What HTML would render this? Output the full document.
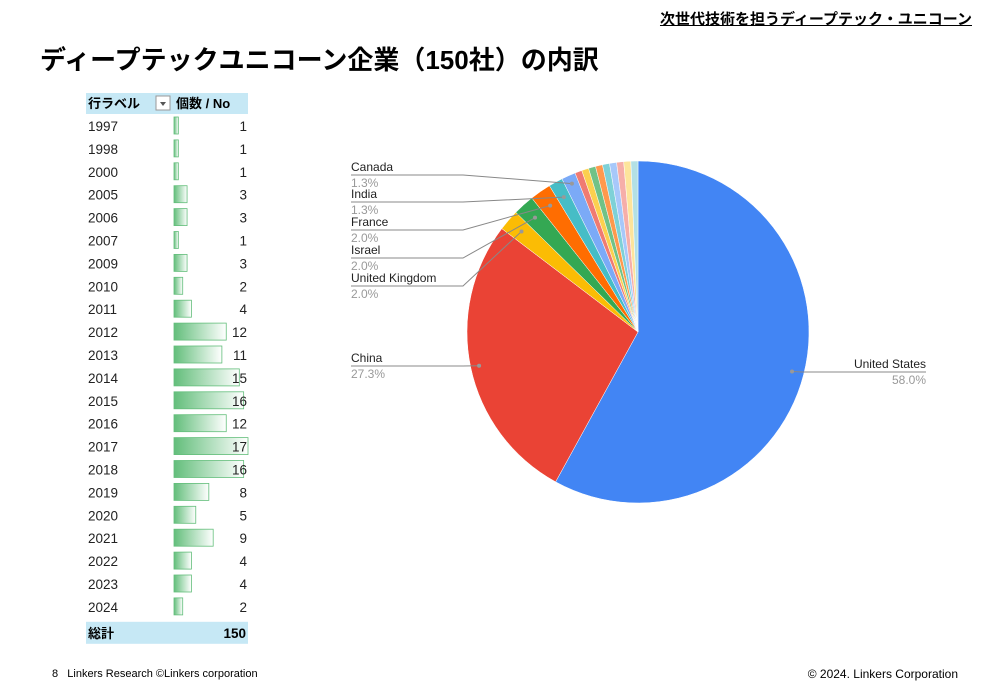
<!DOCTYPE html>
<html><head><meta charset="utf-8"><style>
body{margin:0;width:1000px;height:692px;background:#fff;font-family:"Liberation Sans","Noto Sans CJK JP",sans-serif;position:relative;overflow:hidden}
.abs{position:absolute}
</style></head><body>
<div class="abs" style="right:28px;top:8px;font-size:15px;font-weight:bold;text-decoration:underline">次世代技術を担うディープテック・ユニコーン</div>
<div class="abs" style="left:40px;top:40px;font-size:26px;font-weight:bold">ディープテックユニコーン企業（150社）の内訳</div>
<svg class="abs" style="left:0;top:0" width="1000" height="692" id="svg"></svg>
<div class="abs" style="left:52px;top:668px;font-size:11px">8 &nbsp;&nbsp;Linkers Research ©Linkers corporation</div>
<div class="abs" style="right:42px;top:667px;font-size:12px">© 2024. Linkers Corporation</div>
<script>
const years=["1997","1998","2000","2005","2006","2007","2009","2010","2011","2012","2013","2014","2015","2016","2017","2018","2019","2020","2021","2022","2023","2024"];
const counts=[1,1,1,3,3,1,3,2,4,12,11,15,16,12,17,16,8,5,9,4,4,2];
const total="150";
const countries=["United States","China","United Kingdom","Israel","France","India","Canada","o1","o2","o3","o4","o5","o6","o7","o8","o9"];
const shares=[87,41,3,3,3,2,2,1,1,1,1,1,1,1,1,1];
const colors=["#4285F4","#EA4335","#FBBC04","#34A853","#FF6D01","#46BDC6","#7BAAF7","#F07B72","#FCD04F","#71C287","#FF994D","#7ED1D7","#A7C8FA","#F6AEA9","#FDE49B","#B3E0E5"];
const NS="http://www.w3.org/2000/svg";const svg=document.getElementById('svg');
function mk(t,a,p){const e=document.createElementNS(NS,t);for(const k in a)e.setAttribute(k,a[k]);(p||svg).appendChild(e);return e;}
let h=mk('rect',{x:86,y:93,width:162,height:21,fill:'#c6e8f5'});


let t=mk('text',{x:88,y:108,'font-size':13,'font-weight':'bold'});t.textContent='行ラベル';


let fb=mk('rect',{x:156,y:96,width:14,height:14,fill:'#fff',stroke:'#999'});


mk('path',{d:'M160 102 L166 102 L163 106 Z',fill:'#555'});
t=mk('text',{x:176,y:108,'font-size':13,'font-weight':'bold'});t.textContent='個数 / No';


const defs=mk('defs',{});const g=mk('linearGradient',{id:'gb',x1:0,x2:1,y1:0,y2:0},defs);
mk('stop',{offset:0,'stop-color':'#63be7b'},g);mk('stop',{offset:1,'stop-color':'#fff'},g);
const x0=174,maxW=74,maxV=17,rowH=22.9,y0=126;
years.forEach((y,i)=>{const cy=y0+i*rowH;
 const w=counts[i]/maxV*maxW;
 const b=mk('rect',{x:x0,y:cy-9,width:w,height:17,fill:'url(#gb)',stroke:'#63be7b','stroke-width':0.8});
 
 
 let a=mk('text',{x:88,y:cy+5,'font-size':13.5,fill:'#222'});a.textContent=y;
 
 
 let c=mk('text',{x:247,y:cy+5,'font-size':13.5,'text-anchor':'end',fill:'#222'});c.textContent=counts[i];
 
 
});
const ty=y0+years.length*rowH-8;
let tr=mk('rect',{x:86,y:ty,width:162,height:22,fill:'#c6e8f5'});


t=mk('text',{x:88,y:ty+16,'font-size':13,'font-weight':'bold'});t.textContent='総計';


t=mk('text',{x:246,y:ty+16,'font-size':13.5,'font-weight':'bold','text-anchor':'end'});t.textContent=total;


const cx=638,cyP=332,R=171;const sum=shares.reduce((a,b)=>a+b,0);
let ang=0;const mids=[];
shares.forEach((s,i)=>{const a0=ang,a1=ang+s/sum*2*Math.PI;ang=a1;mids.push((a0+a1)/2);
 const p=(a)=>[cx+R*Math.sin(a),cyP-R*Math.cos(a)];const [xa,ya]=p(a0),[xb,yb]=p(a1);
 const sl=mk('path',{d:`M${cx} ${cyP} L${xa} ${ya} A${R} ${R} 0 ${a1-a0>Math.PI?1:0} 1 ${xb} ${yb} Z`,fill:colors[i],stroke:'#fff','stroke-width':0.5});
 
 
});
function pct(i){return (shares[i]/sum*100).toFixed(1)+'%';}
function label(i,lx,ly,lineEnd,rf){
 const a=mids[i];const dx=cx+R*rf*Math.sin(a),dy=cyP-R*rf*Math.cos(a);
 mk('path',{d:`M${lx} ${ly+6} L${lineEnd} ${ly+6} L${dx} ${dy}`,fill:'none',stroke:'#888','stroke-width':1});
 mk('circle',{cx:dx,cy:dy,r:2,fill:'#999'});
 let n=mk('text',{x:lx,y:ly+2,'font-size':12,fill:'#222'});n.textContent=countries[i];
 
 
 let v=mk('text',{x:lx,y:ly+18,'font-size':12,fill:'#999'});v.textContent=pct(i);
 
 
}
label(6,351,169,463,0.95);
label(5,351,196,463,0.9);
label(4,351,224,463,0.9);
label(3,351,252,463,0.9);
label(2,351,280,463,0.9);
label(1,351,360,463,0.95);
// United States label on right
(function(){const i=0,a=mids[i];const dx=cx+R*0.93*Math.sin(a),dy=cyP-R*0.93*Math.cos(a);
 mk('path',{d:`M926 372 L${dx+10} 372 L${dx} ${dy}`,fill:'none',stroke:'#888','stroke-width':1});
 mk('circle',{cx:dx,cy:dy,r:2,fill:'#999'});
 let n=mk('text',{x:926,y:368,'font-size':12,'text-anchor':'end',fill:'#222'});n.textContent=countries[i];
 
 
 let v=mk('text',{x:926,y:384,'font-size':12,'text-anchor':'end',fill:'#999'});v.textContent=pct(i);
 
 
})();
</script>
</body></html>
